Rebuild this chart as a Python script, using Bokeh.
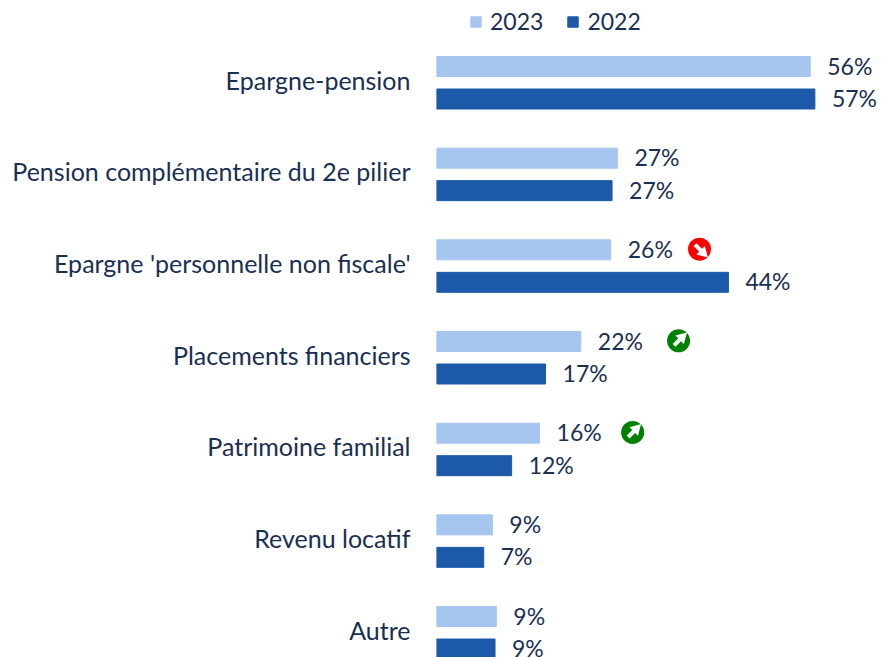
from bokeh.plotting import figure
from bokeh.models import Range1d, Legend, LegendItem
from bokeh.core.properties import value
from bokeh.embed import file_html
from bokeh.resources import INLINE

categories = ["Epargne-pension", "Pension complémentaire du 2e pilier", "Epargne 'personnelle non fiscale'",
              "Placements financiers", "Patrimoine familial", "Revenu locatif", "Autre"]
v2023 = [56.2, 27.2, 26.2, 21.7, 15.5, 8.4, 9.0]
v2022 = [56.9, 26.4, 43.9, 16.4, 11.3, 7.1, 8.8]
l2023 = ["56%", "27%", "26%", "22%", "16%", "9%", "9%"]
l2022 = ["57%", "27%", "44%", "17%", "12%", "7%", "9%"]
badge_cat = [2, 3, 4]
badge_x = [39.55, 36.4, 29.5]
badge_dir = [-1, 1, 1]   # -1 down, +1 up
badge_col = ["#FF0000", "#008000", "#008000"]

LIGHT, DARK, INK = "#A6C6F0", "#1C59A8", "#1A2F52"
FONT = "Lato"; FS = "23px"
PX_X = 6.65; PX_Y = 91.67
off23 = 13.2 / PX_Y; off22 = 19.3 / PX_Y; h = 20 / PX_Y
idx = list(range(len(categories)))

p = figure(width=881, height=657, output_backend="svg", toolbar_location=None,
           x_range=Range1d(0, (881 - 436) / PX_X),
           y_range=Range1d((657 - 79.2) / PX_Y, (0 - 79.2) / PX_Y),
           min_border_left=436, min_border_right=0, min_border_top=0, min_border_bottom=0,
           outline_line_color=None, background_fill_color="white", border_fill_color="white")
p.grid.visible = False
p.xaxis.visible = False
ax = p.yaxis[0]
ax.ticker = idx
ax.major_label_overrides = {i: c for i, c in enumerate(categories)}
ax.axis_line_color = None
ax.major_tick_line_color = None
ax.minor_tick_line_color = None
ax.major_tick_out = 0
ax.major_label_standoff = 26
ax.major_label_text_font = FONT
ax.major_label_text_font_size = "25px"
ax.major_label_text_color = INK

y23 = [i - off23 for i in idx]
y22 = [i + off22 for i in idx]
r23 = p.hbar(y=y23, right=v2023, left=0, height=h, color=LIGHT)
r22 = p.hbar(y=y22, right=v2022, left=0, height=h, color=DARK)
for ys, vs, ls in ((y23, v2023, l2023), (y22, v2022, l2022)):
    p.text(x=vs, y=ys, text=ls, x_offset=17, y_offset=-1, text_align="left", text_baseline="middle",
           text_font=value(FONT), text_font_size=FS, text_color=INK)

by = [c - off23 - 0.7 / PX_Y for c in badge_cat]
p.scatter(x=badge_x, y=by, size=23, marker="circle", color=badge_col, line_color=None)
a = 5 / PX_X; b = 5 / PX_Y
for x, y, d in zip(badge_x, by, badge_dir):
    p.segment([x - a * 0.9], [y + d * b * 0.9], [x + a * 0.4], [y - d * b * 0.4], line_color="white", line_width=4)
    p.scatter([x + a * 0.7], [y - d * b * 0.7], size=12, marker="triangle", angle=(-45 if d > 0 else -135),
              angle_units="deg", color="white", line_color=None)

legend = Legend(items=[LegendItem(label="2023", renderers=[r23]), LegendItem(label="2022", renderers=[r22])],
                orientation="horizontal", location=(33, 622), background_fill_alpha=0, border_line_color=None,
                glyph_width=13, glyph_height=13, label_text_font=FONT, label_text_font_size=FS,
                label_text_color=INK, spacing=23, padding=0, margin=0, label_standoff=8)
p.add_layout(legend)

open("out.html", "w").write(file_html(p, INLINE))
